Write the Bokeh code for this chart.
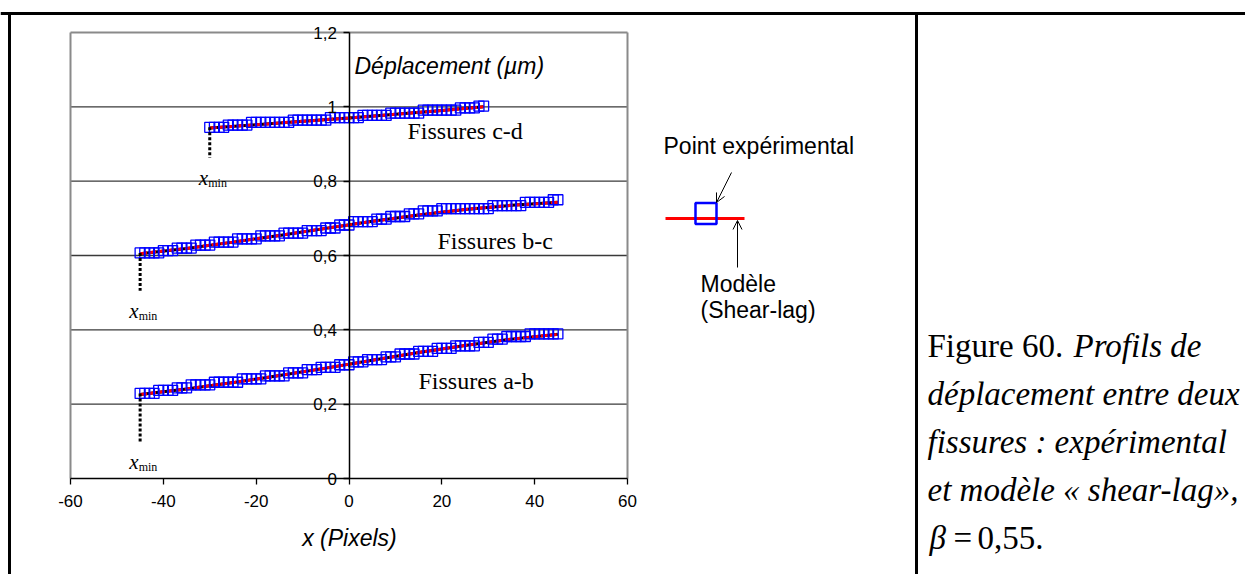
from bokeh.plotting import figure
from bokeh.models import (Range1d, LinearAxis, FixedTicker, CustomJSTickFormatter,
                          Arrow, OpenHead)
from bokeh.core.properties import value
from bokeh.embed import file_html
from bokeh.resources import INLINE

# ---------------- data ----------------
x_ticks = [-60, -40, -20, 0, 20, 40, 60]
x_tick_labels = ["-60", "-40", "-20", "0", "20", "40", "60"]
y_ticks = [0, 0.2, 0.4, 0.6, 0.8, 1.0, 1.2]
y_tick_labels = ["0", "0,2", "0,4", "0,6", "0,8", "1", "1,2"]

ab_x = [-45, -44, -43, -42, -41, -40, -39, -38, -37, -36, -35, -34, -33, -32, -31,
        -30, -29, -28, -27, -26, -25, -24, -23, -22, -21, -20, -19, -18, -17, -16,
        -15, -14, -13, -12, -11, -10, -9, -8, -7, -6, -5, -4, -3, -2, -1,
        0, 1, 2, 3, 4, 5, 6, 7, 8, 9, 10, 11, 12, 13, 14,
        15, 16, 17, 18, 19, 20, 21, 22, 23, 24, 25, 26, 27, 28, 29,
        30, 31, 32, 33, 34, 35, 36, 37, 38, 39, 40, 41, 42, 43, 44, 45]
ab_y = [0.229, 0.229, 0.229, 0.229, 0.237, 0.237, 0.237, 0.237, 0.244, 0.244, 0.244,
        0.252, 0.252, 0.252, 0.252, 0.252, 0.259, 0.259, 0.259, 0.259, 0.259, 0.259,
        0.268, 0.268, 0.268, 0.268, 0.268, 0.276, 0.276, 0.276, 0.276, 0.276,
        0.284, 0.284, 0.284, 0.284, 0.293, 0.293, 0.293, 0.299, 0.299, 0.299, 0.299,
        0.306, 0.306, 0.306, 0.314, 0.314, 0.314, 0.320, 0.320, 0.320, 0.320,
        0.327, 0.327, 0.327, 0.335, 0.335, 0.335, 0.335, 0.342, 0.342, 0.342, 0.342,
        0.350, 0.350, 0.350, 0.350, 0.357, 0.357, 0.357, 0.357, 0.357,
        0.366, 0.366, 0.366, 0.375, 0.375, 0.375, 0.382, 0.382, 0.382, 0.382, 0.382,
        0.389, 0.389, 0.389, 0.389, 0.389, 0.389, 0.389]

bc_x = [-45, -44, -43, -42, -41, -40, -39, -38, -37, -36, -35, -34, -33, -32, -31,
        -30, -29, -28, -27, -26, -25, -24, -23, -22, -21, -20, -19, -18, -17, -16,
        -15, -14, -13, -12, -11, -10, -9, -8, -7, -6, -5, -4, -3, -2, -1,
        0, 1, 2, 3, 4, 5, 6, 7, 8, 9, 10, 11, 12, 13, 14,
        15, 16, 17, 18, 19, 20, 21, 22, 23, 24, 25, 26, 27, 28, 29,
        30, 31, 32, 33, 34, 35, 36, 37, 38, 39, 40, 41, 42, 43, 44, 45]
bc_y = [0.607, 0.607, 0.607, 0.607, 0.607, 0.613, 0.613, 0.613, 0.620, 0.620, 0.620, 0.620,
        0.628, 0.628, 0.628, 0.628, 0.636, 0.636, 0.636, 0.636, 0.636,
        0.645, 0.645, 0.645, 0.645, 0.645, 0.653, 0.653, 0.653, 0.653, 0.653,
        0.660, 0.660, 0.660, 0.660, 0.660, 0.667, 0.667, 0.667, 0.667,
        0.674, 0.674, 0.674, 0.682, 0.682, 0.682, 0.691, 0.691, 0.691, 0.691, 0.691,
        0.698, 0.698, 0.698, 0.705, 0.705, 0.705, 0.705, 0.712, 0.712, 0.712,
        0.720, 0.720, 0.720, 0.720,
        0.726, 0.726, 0.726, 0.726, 0.726, 0.726, 0.726, 0.726, 0.726, 0.726, 0.726,
        0.734, 0.734, 0.734, 0.734, 0.734, 0.734, 0.734,
        0.743, 0.743, 0.743, 0.743, 0.743, 0.743, 0.750, 0.750]

cd_x = [-30, -29, -28, -27, -26, -25, -24, -23, -22, -21, -20, -19, -18, -17, -16,
        -15, -14, -13, -12, -11, -10, -9, -8, -7, -6, -5, -4, -3, -2, -1,
        0, 1, 2, 3, 4, 5, 6, 7, 8, 9, 10, 11, 12, 13, 14,
        15, 16, 17, 18, 19, 20, 21, 22, 23, 24, 25, 26, 27, 28, 29]
cd_y = [0.945, 0.945, 0.945, 0.945, 0.951, 0.951, 0.951, 0.951, 0.951,
        0.958, 0.958, 0.958, 0.958, 0.958, 0.958, 0.958, 0.958, 0.958,
        0.964, 0.964, 0.964, 0.964, 0.964, 0.964, 0.964, 0.964,
        0.971, 0.971, 0.971, 0.971, 0.971, 0.971, 0.971,
        0.977, 0.977, 0.977, 0.977, 0.977, 0.977,
        0.983, 0.983, 0.983, 0.983, 0.983, 0.983, 0.983,
        0.991, 0.991, 0.991, 0.991, 0.991, 0.991, 0.991, 0.991,
        0.997, 0.997, 0.997, 0.997, 1.002, 1.002]

model_ab_x = [-45, -35, -25, -15, -5, 5, 15, 25, 35, 45]
model_ab_y = [0.226, 0.241, 0.258, 0.277, 0.297, 0.318, 0.339, 0.358, 0.375, 0.388]
model_bc_x = [-45, -35, -25, -15, -5, 5, 15, 25, 35, 45]
model_bc_y = [0.605, 0.619, 0.636, 0.654, 0.673, 0.692, 0.709, 0.724, 0.735, 0.743]
model_cd_x = [-30, -20, -10, 0, 10, 20, 29]
model_cd_y = [0.943, 0.952, 0.961, 0.970, 0.980, 0.990, 1.000]

xmin_bottom = [0.098, 0.505, 0.863]          # lower end of the dotted x_min markers
fissure_labels = ["Fissures a-b", "Fissures b-c", "Fissures c-d"]

# ---------------- layout helpers (picture pixels -> data) ----------------
W, H = 1245, 574
PX_L, PX_R = 70, 627      # picture x of -60 / 60
PY_B, PY_T = 478, 32      # picture y of 0 / 1.2


def X(px):
    return -60 + (px - PX_L) * 120.0 / (PX_R - PX_L)


def Y(py):
    return (PY_B - py) * 1.2 / (PY_B - PY_T)


p = figure(width=W, height=H, output_backend="svg", toolbar_location=None,
           x_range=Range1d(X(0), X(W)), y_range=Range1d(Y(H), Y(0)),
           x_axis_location=None, y_axis_location=None, min_border=0,
           outline_line_color=None, background_fill_color="white",
           border_fill_color="white")
p.grid.visible = False

SANS = value("Liberation Sans")
SERIF = value("Liberation Serif")

# outer frame and divider
p.segment(x0=[X(0), X(9), X(916)], y0=[Y(13), Y(13), Y(13)],
          x1=[X(W + 5), X(9), X(916)], y1=[Y(13), Y(H + 5), Y(H + 5)],
          line_color="black", line_width=3)

# plot area border and gridlines
p.segment(x0=[x_ticks[0]] * 5, y0=y_ticks[1:6], x1=[x_ticks[-1]] * 5, y1=y_ticks[1:6],
          line_color="#3a3a3a", line_width=1.3)
p.segment(x0=[x_ticks[0], x_ticks[0], x_ticks[-1]], y0=[y_ticks[-1], y_ticks[0], y_ticks[0]],
          x1=[x_ticks[-1], x_ticks[0], x_ticks[-1]], y1=[y_ticks[-1], y_ticks[-1], y_ticks[-1]],
          line_color="#8a8a8a", line_width=2)

# axes crossing at 0
JS = "const i = tk.findIndex(t => Math.abs(t - tick) < 1e-9); return i >= 0 ? lb[i] : '';"
fmt_x = CustomJSTickFormatter(args=dict(tk=x_ticks, lb=x_tick_labels), code=JS)
fmt_y = CustomJSTickFormatter(args=dict(tk=y_ticks, lb=y_tick_labels), code=JS)
xaxis = LinearAxis(fixed_location=0, bounds=(x_ticks[0], x_ticks[-1]),
                   ticker=FixedTicker(ticks=x_ticks), formatter=fmt_x)
yaxis = LinearAxis(fixed_location=0, bounds=(y_ticks[0], y_ticks[-1]),
                   ticker=FixedTicker(ticks=y_ticks), formatter=fmt_y)
for ax, stand in ((xaxis, 10), (yaxis, 6)):
    ax.axis_line_color = "black"
    ax.axis_line_width = 1.5
    ax.major_tick_line_color = "black"
    ax.major_tick_line_width = 1.3
    ax.major_tick_out = 6
    ax.major_tick_in = 0
    ax.minor_tick_line_color = None
    ax.major_label_text_font = "Liberation Sans"
    ax.major_label_text_font_size = "17px"
    ax.major_label_text_color = "black"
    ax.major_label_standoff = stand
p.add_layout(xaxis, "below")
p.add_layout(yaxis, "left")

# series
for xs, ys, mx, my in ((ab_x, ab_y, model_ab_x, model_ab_y),
                       (bc_x, bc_y, model_bc_x, model_bc_y),
                       (cd_x, cd_y, model_cd_x, model_cd_y)):
    p.line(mx, my, line_color="black", line_width=3)
    p.line(mx, my, line_color="#ff0000", line_width=3, line_dash="7 2")
    p.scatter(xs, ys, marker="square", size=10, fill_color=None,
              line_color="#0000ff", line_width=1.3)

# dotted x_min markers and labels
firsts = [(ab_x[0], ab_y[0]), (bc_x[0], bc_y[0]), (cd_x[0], cd_y[0])]
p.segment(x0=[f[0] for f in firsts], y0=[f[1] for f in firsts],
          x1=[f[0] for f in firsts], y1=xmin_bottom,
          line_color="black", line_width=3, line_dash="3 2")
sx = 120.0 / (PX_R - PX_L)
sy = 1.2 / (PY_B - PY_T)
p.text(x=[f[0] - 11 * sx for f in firsts], y=[b - 20 * sy for b in xmin_bottom],
       text=["x"] * 3, text_font=SERIF, text_font_style="italic",
       text_font_size="21px", text_align="left", text_baseline="alphabetic",
       text_color="black")
p.text(x=[f[0] - 1.5 * sx for f in firsts], y=[b - 25 * sy for b in xmin_bottom],
       text=["min"] * 3, text_font=SERIF, text_font_size="12px",
       text_align="left", text_baseline="alphabetic", text_color="black")

# fissure labels
p.text(x=[X(418), X(437), X(407)], y=[Y(380), Y(240), Y(130)],
       text=fissure_labels, text_font=SERIF, text_font_size="24px",
       text_align="left", text_baseline="middle", text_color="black")

# axis titles
p.text(x=[X(354)], y=[Y(65)], text=["Déplacement (µm)"], text_font=SANS,
       text_font_style="italic", text_font_size="23px", text_align="left",
       text_baseline="middle", text_color="black")
p.text(x=[X(349)], y=[Y(537)], text=["x (Pixels)"], text_font=SANS,
       text_font_style="italic", text_font_size="23px", text_align="center",
       text_baseline="middle", text_color="black")

# explanatory legend
p.text(x=[X(663), X(700), X(700)], y=[Y(145), Y(283), Y(309)],
       text=["Point expérimental", "Modèle", "(Shear-lag)"], text_font=SANS,
       text_font_size="23px", text_align="left", text_baseline="middle",
       text_color="black")
p.segment(x0=[X(665)], y0=[Y(218)], x1=[X(744)], y1=[Y(218)],
          line_color="#ff0000", line_width=3)
p.scatter([X(705.5)], [Y(213)], marker="square", size=21, fill_color=None,
          line_color="#0000ff", line_width=2.5)
p.add_layout(Arrow(end=OpenHead(size=9, line_width=1), x_start=X(731), y_start=Y(172),
                   x_end=X(716), y_end=Y(202), line_width=1, line_color="black"))
p.add_layout(Arrow(end=OpenHead(size=9, line_width=1), x_start=X(737), y_start=Y(267),
                   x_end=X(737), y_end=Y(220), line_width=1, line_color="black"))

# caption
CAP = "33px"
p.text(x=[X(927)], y=[Y(345)], text=["Figure 60."], text_font=SERIF,
       text_font_size=CAP, text_align="left", text_baseline="middle", text_color="black")
p.text(x=[X(1073), X(927), X(927), X(927), X(929)],
       y=[Y(345), Y(393), Y(441), Y(489), Y(537)],
       text=["Profils de", "déplacement entre deux", "fissures : expérimental",
             "et modèle « shear-lag»,", "β"],
       text_font=SERIF, text_font_style="italic", text_font_size=CAP,
       text_align="left", text_baseline="middle", text_color="black")
p.text(x=[X(953), X(977)], y=[Y(537), Y(537)], text=["=", "0,55."], text_font=SERIF,
       text_font_size=CAP, text_align="left", text_baseline="middle", text_color="black")

open("out.html", "w").write(file_html(p, INLINE))
